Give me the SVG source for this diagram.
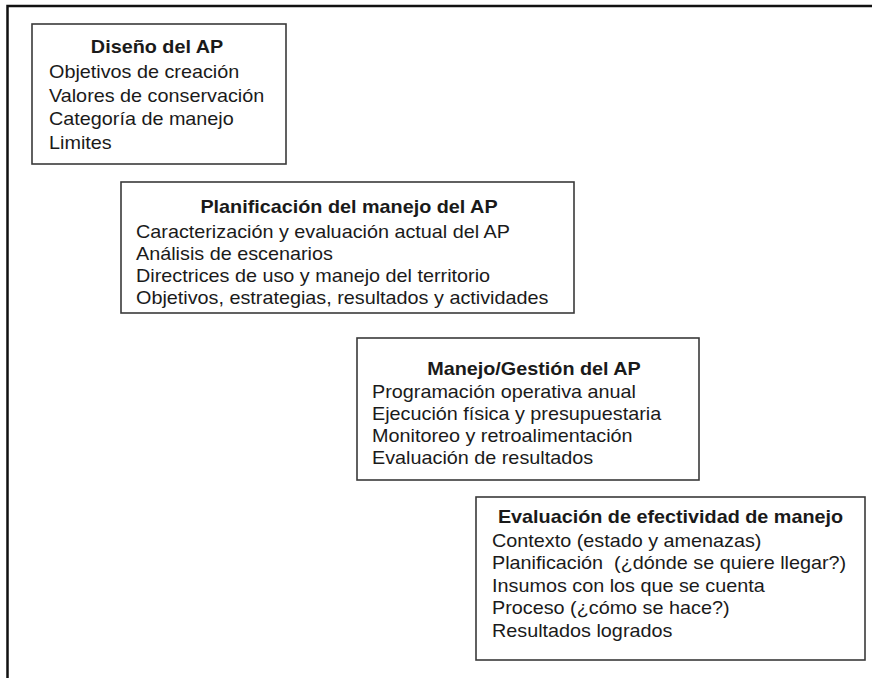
<svg xmlns="http://www.w3.org/2000/svg" width="872" height="678" viewBox="0 0 872 678">
<style>
.frame{fill:none;stroke:#111;stroke-width:2.5}
.box{fill:#fff;stroke:#3a3a3a;stroke-width:1.6}
text{font-family:"Liberation Sans",Arial,Helvetica,sans-serif;font-size:18px;fill:#1a1a1a}
.t{font-weight:bold;text-anchor:middle}
</style>
<rect width="872" height="678" fill="#fff"/>
<path class="frame" d="M7.5,678 V6 H872"/>
<g id="diseno">
<rect class="box" x="32" y="24" width="254" height="140"/>
<text class="t" transform="translate(157 53) scale(1.1 1)">Diseño del AP</text>
<text transform="translate(49 78) scale(1.1 1)">Objetivos de creación</text>
<text transform="translate(49 101.5) scale(1.1 1)">Valores de conservación</text>
<text transform="translate(49 125) scale(1.1 1)">Categoría de manejo</text>
<text transform="translate(49 148.5) scale(1.1 1)">Limites</text>
</g>
<g id="planificacion">
<rect class="box" x="121" y="182" width="453" height="131"/>
<text class="t" transform="translate(349 213) scale(1.1 1)">Planificación del manejo del AP</text>
<text transform="translate(136 237.5) scale(1.1 1)">Caracterización y evaluación actual del AP</text>
<text transform="translate(136 259.5) scale(1.1 1)">Análisis de escenarios</text>
<text transform="translate(136 281.5) scale(1.1 1)">Directrices de uso y manejo del territorio</text>
<text transform="translate(136 304) scale(1.1 1)">Objetivos, estrategias, resultados y actividades</text>
</g>
<g id="manejo">
<rect class="box" x="357" y="338" width="342" height="142"/>
<text class="t" transform="translate(534 375) scale(1.1 1)">Manejo/Gestión del AP</text>
<text transform="translate(372 398) scale(1.1 1)">Programación operativa anual</text>
<text transform="translate(372 420) scale(1.1 1)">Ejecución física y presupuestaria</text>
<text transform="translate(372 442) scale(1.1 1)">Monitoreo y retroalimentación</text>
<text transform="translate(372 463.5) scale(1.1 1)">Evaluación de resultados</text>
</g>
<g id="evaluacion">
<rect class="box" x="476" y="497" width="389" height="163"/>
<text class="t" transform="translate(670.5 523) scale(1.1 1)">Evaluación de efectividad de manejo</text>
<text transform="translate(492 547) scale(1.1 1)">Contexto (estado y amenazas)</text>
<text transform="translate(492 569) scale(1.1 1)">Planificación&#160; (¿dónde se quiere llegar?)</text>
<text transform="translate(492 592) scale(1.1 1)">Insumos con los que se cuenta</text>
<text transform="translate(492 614) scale(1.1 1)">Proceso (¿cómo se hace?)</text>
<text transform="translate(492 637) scale(1.1 1)">Resultados logrados</text>
</g>
<g id="connectors"></g>
</svg>
